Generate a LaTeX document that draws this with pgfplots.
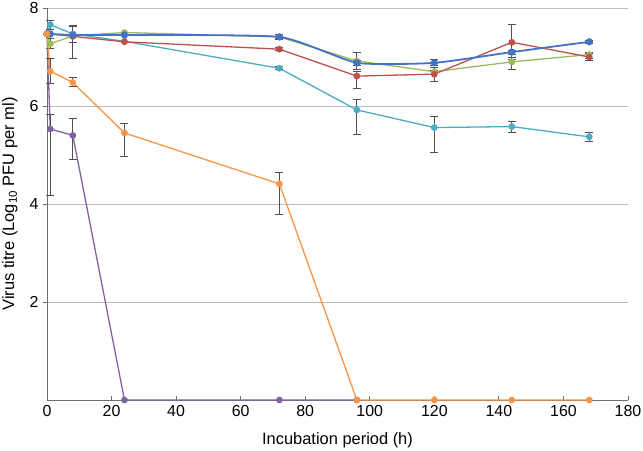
\documentclass[border=0pt]{standalone}
\usepackage{fontspec}
\setmainfont{Liberation Sans}
\usepackage{pgfplots}
\pgfplotsset{compat=1.18}
\definecolor{cblue}{HTML}{4472C4}
\definecolor{cred}{HTML}{C0504D}
\definecolor{cgreen}{HTML}{9BBB59}
\definecolor{ccyan}{HTML}{4BACC6}
\definecolor{corange}{HTML}{F79646}
\definecolor{cpurple}{HTML}{8064A2}
\definecolor{axgray}{HTML}{6E6E6E}
\definecolor{grgray}{HTML}{BDBDBD}
\definecolor{ebgray}{HTML}{505050}
\pgfplotsset{myeb/.style={error bars/.cd, y dir=both, y explicit,
  error bar style={color=ebgray, line width=0.9bp},
  error mark options={rotate=90, mark size=4bp, color=ebgray, line width=0.9bp}}}
\begin{document}
\begin{tikzpicture}
\useasboundingbox (-47bp,-51bp) rectangle (596bp,400bp);
\begin{axis}[
  at={(0,0)}, anchor=south west,
  scale only axis, width=581bp, height=392bp,
  xmin=0, xmax=180, ymin=0, ymax=8,
  axis x line*=bottom, axis y line*=left,
  axis line style={-, color=axgray, line width=0.9bp},
  xtick={0,20,...,180}, ytick={2,4,6,8},
  xtick align=inside, ytick align=outside,
  major tick length=4bp,
  tick style={color=axgray, line width=0.8bp},
  ymajorgrids, grid style={color=grgray, line width=0.9bp},
  /pgf/number format/assume math mode=true,
  tick label style={font=\fontsize{16}{18}\selectfont},
  xticklabel style={yshift=-2bp},
  yticklabel style={xshift=-1bp},
  xlabel={Incubation period (h)},
  ylabel={Virus titre (Log\textsubscript{10} PFU per ml)},
  every axis x label/.style={at={([yshift=-40bp]axis description cs:0.5,0)}, anchor=center, font=\fontsize{16.5}{18}\selectfont},
  every axis y label/.style={at={([xshift=-37bp]axis description cs:0,0.5)}, anchor=center, rotate=90, font=\fontsize{16.5}{18}\selectfont},
  clip=false,
  every axis plot/.append style={line width=1.3bp, mark=*, mark size=2.7bp},
]
% purple
\addplot[color=cpurple, mark options={fill=cpurple}, myeb] coordinates {
 (0,7.47) (1,5.53) += (0,0.30) -= (0,1.36) (8,5.40) += (0,0.35) -= (0,0.5) (24,0) (72,0) (96,0)};
% cyan
\addplot[color=ccyan, mark options={fill=ccyan}, myeb] coordinates {
 (0,7.47) (1,7.66) += (0,0.08) -= (0,0.1) (8,7.47) += (0,0.15) -= (0,0.18) (24,7.32) (72,6.77) += (0,0.03) -= (0,0.03)
 (96,5.92) += (0,0.22) -= (0,0.51) (120,5.56) += (0,0.22) -= (0,0.51) (144,5.58) += (0,0.10) -= (0,0.12) (168,5.37) += (0,0.09) -= (0,0.10)};
% green
\addplot[color=cgreen, mark options={fill=cgreen}, myeb] coordinates {
 (0,7.47) (1,7.27) += (0,0.1) -= (0,0.1) (8,7.43) += (0,0.21) -= (0,0.45) (24,7.50) (72,7.41) += (0,0.05) -= (0,0.05)
 (96,6.92) += (0,0.18) -= (0,0.17) (120,6.70) += (0,0.08) -= (0,0.2) (144,6.90) += (0,0.09) -= (0,0.15) (168,7.05) += (0,0.05) -= (0,0.08)};
% red
\addplot[color=cred, mark options={fill=cred}, myeb] coordinates {
 (0,7.47) (1,7.47) (8,7.42) (24,7.31) (72,7.16) += (0,0.03) -= (0,0.03)
 (96,6.61) += (0,0.1) -= (0,0.25) (120,6.65) += (0,0.08) -= (0,0.15) (144,7.30) += (0,0.37) -= (0,0.35) (168,7.00) += (0,0.08) -= (0,0.08)};
% blue
\addplot[color=cblue, line width=1.8bp, smooth, tension=0.3, mark options={fill=cblue}, myeb] coordinates {
 (0,7.47) (1,7.47) (8,7.45) (24,7.45) (72,7.41) += (0,0.04) -= (0,0.04)
 (96,6.88) += (0,0.05) -= (0,0.05) (120,6.88) += (0,0.08) -= (0,0.05) (144,7.10) += (0,0.04) -= (0,0.04) (168,7.31) += (0,0.03) -= (0,0.03)};
% orange
\addplot[color=corange, mark options={fill=corange}, myeb] coordinates {
 (0,7.47) (1,6.71) += (0,0.27) -= (0,0.25) (8,6.48) += (0,0.10) -= (0,0.09) (24,5.45) += (0,0.20) -= (0,0.48)
 (72,4.41) += (0,0.24) -= (0,0.63) (96,0) (120,0) (144,0) (168,0)};
\end{axis}
\end{tikzpicture}
\end{document}
